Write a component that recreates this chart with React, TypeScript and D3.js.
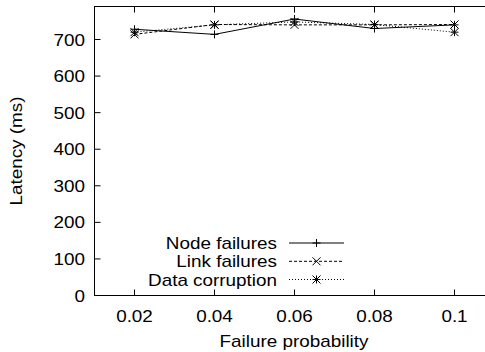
import React from "react";
import * as d3 from "d3";

const probabilities = [0.02, 0.04, 0.06, 0.08, 0.1];
const nodeFailures = [728, 714, 756, 730, 740];
const linkFailures = [714, 741, 740, 740, 741];
const dataCorruption = [720, 740, 748, 741, 720];
const yTicks = [0, 100, 200, 300, 400, 500, 600, 700];
const xTicks = [0.02, 0.04, 0.06, 0.08, 0.1];
const seriesNames = ["Node failures", "Link failures", "Data corruption"];

const W = 485;
const H = 352;
const left = 94.5;
const top = 6.5;
const bottom = 295.5;

const FONT = "'Liberation Sans', Arial, Helvetica, sans-serif";
const FS = 16;
const SX = 1.18;

type Kind = "plus" | "cross" | "star";

function T({
  x,
  y,
  anchor,
  rotate = 0,
  children,
}: {
  x: number;
  y: number;
  anchor: "start" | "middle" | "end";
  rotate?: number;
  children: React.ReactNode;
}) {
  return (
    <text
      transform={`translate(${x},${y}) rotate(${rotate}) scale(${SX},1)`}
      textAnchor={anchor}
      fontSize={FS}
      fill="#000"
    >
      {children}
    </text>
  );
}

function Marker({ x, y, kind }: { x: number; y: number; kind: Kind }) {
  const s = 4;
  const parts: JSX.Element[] = [];
  if (kind === "plus" || kind === "star") {
    parts.push(<line key="h" x1={x - s} x2={x + s} y1={y} y2={y} />);
    parts.push(<line key="v" x1={x} x2={x} y1={y - s} y2={y + s} />);
  }
  if (kind === "cross" || kind === "star") {
    parts.push(<line key="d1" x1={x - s} x2={x + s} y1={y - s} y2={y + s} />);
    parts.push(<line key="d2" x1={x - s} x2={x + s} y1={y + s} y2={y - s} />);
  }
  return <g stroke="#000" strokeWidth={1}>{parts}</g>;
}

export default function App() {
  const x = d3.scaleLinear().domain([0.01, 0.11]).range([left, left + 400]);
  const y = d3.scaleLinear().domain([0, 700]).range([bottom, 39.5]);
  const right = x(0.11);

  const series = [
    { name: seriesNames[0], values: nodeFailures, dash: "none", kind: "plus" as Kind },
    { name: seriesNames[1], values: linkFailures, dash: "3,2", kind: "cross" as Kind },
    { name: seriesNames[2], values: dataCorruption, dash: "1,2", kind: "star" as Kind },
  ];

  const line = d3
    .line<number>()
    .x((_, i) => x(probabilities[i]))
    .y((v) => y(v));

  const legendY = [243, 261.3, 279.5];

  return (
    <svg
      width={W}
      height={H}
      style={{ position: "absolute", left: 0, top: 0, background: "#fff" }}
      fontFamily={FONT}
    >
      <rect x={0} y={0} width={W} height={H} fill="#fff" />
      <rect
        x={left}
        y={top}
        width={right - left}
        height={bottom - top}
        fill="none"
        stroke="#000"
        strokeWidth={1}
      />
      {yTicks.map((t) => (
        <g key={"y" + t}>
          <line x1={left} x2={left + 6} y1={y(t)} y2={y(t)} stroke="#000" />
          <line x1={right} x2={right - 6} y1={y(t)} y2={y(t)} stroke="#000" />
          <T x={85} y={y(t) + 6} anchor="end">
            {t}
          </T>
        </g>
      ))}
      {xTicks.map((t) => (
        <g key={"x" + t}>
          <line x1={x(t)} x2={x(t)} y1={bottom} y2={bottom - 6} stroke="#000" />
          <line x1={x(t)} x2={x(t)} y1={top} y2={top + 6} stroke="#000" />
          <T x={x(t)} y={322} anchor="middle">
            {String(t)}
          </T>
        </g>
      ))}
      <T x={294} y={347} anchor="middle">
        Failure probability
      </T>
      <T x={22} y={(top + bottom) / 2} anchor="middle" rotate={-90}>
        Latency (ms)
      </T>
      {series.map((s) => (
        <g key={s.name}>
          <path
            d={line(s.values) || ""}
            fill="none"
            stroke="#000"
            strokeWidth={1}
            strokeDasharray={s.dash}
          />
          {s.values.map((v, i) => (
            <Marker key={i} x={x(probabilities[i])} y={y(v)} kind={s.kind} />
          ))}
        </g>
      ))}
      {series.map((s, i) => (
        <g key={"lg" + s.name}>
          <T x={277} y={legendY[i] + 6} anchor="end">
            {s.name}
          </T>
          <line
            x1={289}
            x2={344}
            y1={legendY[i]}
            y2={legendY[i]}
            stroke="#000"
            strokeDasharray={s.dash}
          />
          <Marker x={316.5} y={legendY[i]} kind={s.kind} />
        </g>
      ))}
    </svg>
  );
}
